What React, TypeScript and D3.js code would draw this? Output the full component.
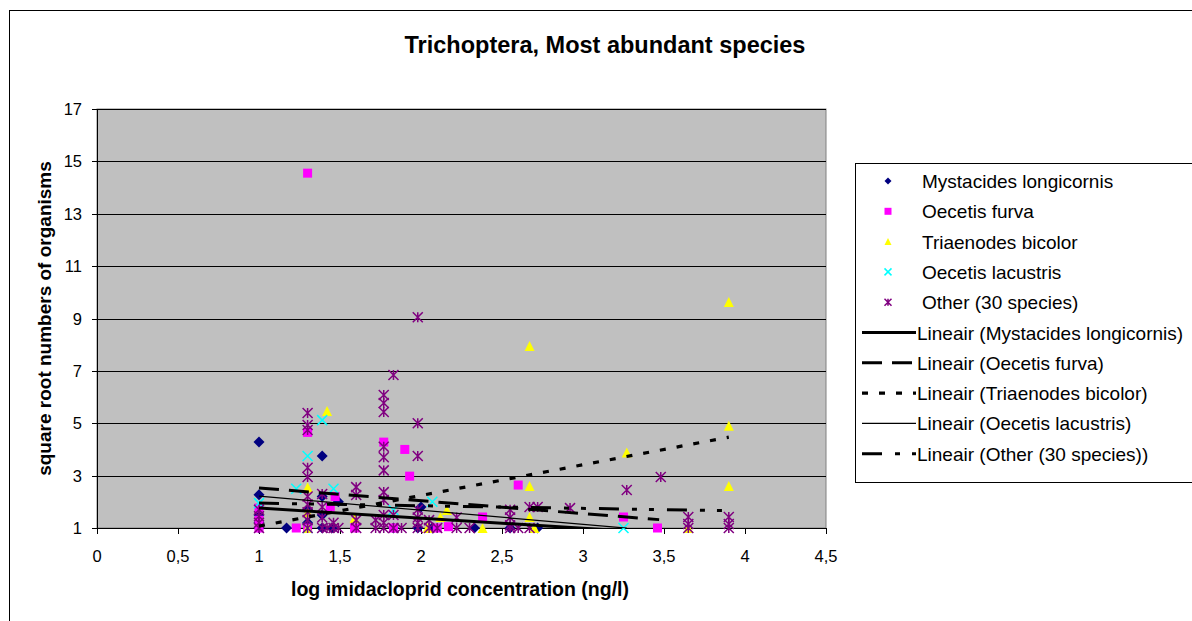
import React from "react";
import * as d3 from "d3";

// ---------- data ----------
const title = "Trichoptera, Most abundant species";
const xTitle = "log imidacloprid concentration (ng/l)";
const yTitle = "square root numbers of organisms";

const xTicks = [0, 0.5, 1, 1.5, 2, 2.5, 3, 3.5, 4, 4.5];
const xTickLabels = ["0", "0,5", "1", "1,5", "2", "2,5", "3", "3,5", "4", "4,5"];
const yTicks = [1, 3, 5, 7, 9, 11, 13, 15, 17];

const seriesNames = [
  "Mystacides longicornis",
  "Oecetis furva",
  "Triaenodes bicolor",
  "Oecetis lacustris",
  "Other (30 species)",
];

const mystacides: [number, number][] = [
  [1.0, 4.28], [1.0, 2.27], [1.0, 1.5], [1.0, 1.2], [1.0, 1.0], [1.17, 1.0],
  [1.3, 1.7], [1.3, 1.2], [1.39, 3.75], [1.39, 2.2], [1.39, 1.5], [1.39, 1.0],
  [1.45, 1.0], [1.49, 2.0], [1.83, 1.0], [1.98, 1.0], [2.0, 1.8], [2.07, 1.0],
  [2.33, 1.0], [2.55, 1.0], [2.72, 1.0],
];
const oecetisFurva: [number, number][] = [
  [1.3, 14.55], [1.3, 4.65], [1.77, 4.28], [1.9, 4.0], [1.93, 2.98], [2.6, 2.64],
  [1.0, 1.76], [1.0, 1.3], [1.0, 1.0], [1.23, 1.0], [1.3, 1.0], [1.44, 1.8],
  [1.47, 2.2], [1.59, 1.0], [1.83, 1.0], [2.38, 1.42], [3.25, 1.42], [3.46, 1.0],
  [2.1, 1.0], [2.17, 1.05],
];
const triaenodes: [number, number][] = [
  [3.9, 9.63], [2.67, 7.95], [1.42, 5.47], [3.27, 3.88], [3.9, 4.9], [3.9, 2.6],
  [2.67, 2.6], [1.3, 2.56], [1.59, 1.38], [2.16, 1.69], [2.12, 1.42], [2.67, 1.42],
  [2.04, 1.0], [2.38, 1.0], [2.7, 1.0], [3.65, 1.0], [1.3, 1.0], [1.3, 1.6],
];
const oecetisLacustris: [number, number][] = [
  [1.39, 5.12], [1.3, 3.75], [1.23, 2.5], [1.46, 2.5], [1.0, 1.95], [1.83, 1.69],
  [2.07, 2.0], [3.25, 1.0], [1.3, 1.0],
];
const other: [number, number][] = [
  [1.0, 1.0], [1.0, 1.2], [1.0, 1.45], [1.0, 1.7],
  [1.3, 5.39], [1.3, 4.93], [1.3, 4.74], [1.3, 3.3], [1.3, 2.95], [1.3, 2.2],
  [1.3, 1.9], [1.3, 1.6], [1.3, 1.3], [1.3, 1.0],
  [1.39, 2.3], [1.39, 1.8], [1.39, 1.4], [1.39, 1.0], [1.42, 1.0],
  [1.46, 1.0], [1.46, 1.2], [1.49, 1.0],
  [1.6, 2.56], [1.6, 2.26], [1.6, 1.3], [1.6, 1.0],
  [1.72, 1.3], [1.72, 1.0],
  [1.77, 6.08], [1.77, 5.77], [1.77, 5.43], [1.77, 4.1], [1.77, 3.7], [1.77, 3.2],
  [1.77, 2.37], [1.77, 2.07], [1.77, 1.5], [1.77, 1.2], [1.77, 1.0],
  [1.83, 6.84], [1.83, 1.5], [1.83, 1.0], [1.88, 1.0],
  [1.98, 9.05], [1.98, 5.0], [1.98, 3.75], [1.98, 1.7], [1.98, 1.4], [1.98, 1.2], [1.98, 1.0],
  [2.05, 1.3], [2.05, 1.0], [2.1, 1.0], [2.22, 1.4], [2.22, 1.0], [2.3, 1.0],
  [2.55, 1.7], [2.55, 1.4], [2.55, 1.1], [2.55, 1.0], [2.6, 1.0],
  [2.67, 1.8], [2.67, 1.0], [2.72, 1.8], [2.92, 1.76],
  [3.27, 2.45], [3.48, 2.95],
  [3.65, 1.42], [3.65, 1.15], [3.65, 1.0],
  [3.9, 1.42], [3.9, 1.15], [3.9, 1.0],
];

// linear trendlines: value at x = 1, slope, x-range
const trendAtOne = [1.76, 2.53, 1.07, 2.22, 1.95];
const trendSlope = [-0.385, -0.49, 1.172, -0.54, -0.1];
const trendFrom = [1.0, 1.0, 1.0, 1.0, 1.0];
const trendTo = [3.5, 3.47, 3.9, 3.27, 3.88];

// ---------- styling ----------
const W = 1192;
const H = 621;
const plot = { left: 97, right: 826, top: 109, bottom: 528 };
const FONT = "'Liberation Sans', Arial, sans-serif";

const markerColors = ["#000080", "#FF00FF", "#FFFF00", "#00FFFF", "#800080"];
const markerKinds = ["diamond", "square", "triangle", "x", "star"];
const lineWidths = [3, 3, 3.2, 1.2, 3];
const lineDash = ["", "20,10", "6,11", "", "20,13,5,12,5,13"];

function markerPath(kind: string, s: number): string {
  const h = s / 2;
  switch (kind) {
    case "diamond":
      return `M0,${-h}L${h},0L0,${h}L${-h},0Z`;
    case "square":
      return `M${-h},${-h}H${h}V${h}H${-h}Z`;
    case "triangle":
      return `M0,${-h}L${h},${h}L${-h},${h}Z`;
    case "x":
      return `M${-h},${-h}L${h},${h}M${h},${-h}L${-h},${h}`;
    default:
      return `M${-h},${-h}L${h},${h}M${h},${-h}L${-h},${h}M0,${-h}V${h}`;
  }
}

function Marker({ kind, color, x, y, size }: { kind: string; color: string; x: number; y: number; size: number }) {
  const stroked = kind === "x" || kind === "star";
  return (
    <path
      d={markerPath(kind, size)}
      transform={`translate(${x},${y})`}
      fill={stroked ? "none" : color}
      stroke={stroked ? color : "none"}
      strokeWidth={stroked ? 1.5 : 0}
    />
  );
}

export default function App() {
  const x = d3.scaleLinear().domain([0, 4.5]).range([plot.left, plot.right]);
  const y = d3.scaleLinear().domain([1, 17]).range([plot.bottom, plot.top]);
  const allSeries = [mystacides, oecetisFurva, triaenodes, oecetisLacustris, other];
  const line = d3
    .line<[number, number]>()
    .x((d) => x(d[0]))
    .y((d) => y(d[1]));

  const legendX = 855;
  const legendTop = 163;
  const legendRowY = (i: number) => 181 + i * 30.3;

  return (
    <svg
      width={W}
      height={H}
      style={{ position: "absolute", left: 0, top: 0, background: "#fff" }}
      fontFamily={FONT}
    >
      <defs>
        <clipPath id="plotClip">
          <rect x={plot.left} y={plot.top} width={plot.right - plot.left} height={plot.bottom - plot.top} />
        </clipPath>
      </defs>
      {/* outer chart border */}
      <rect x={9.5} y={10.5} width={W} height={H} fill="#fff" stroke="#000" strokeWidth={1} />

      {/* title */}
      <text x={605} y={53} textAnchor="middle" fontSize={23.5} fontWeight="bold" fill="#000">
        {title}
      </text>

      {/* plot area */}
      <rect
        x={plot.left}
        y={plot.top}
        width={plot.right - plot.left}
        height={plot.bottom - plot.top}
        fill="#C0C0C0"
        stroke="#808080"
        strokeWidth={1}
      />
      {yTicks.map((t) => (
        <line
          key={"g" + t}
          x1={plot.left}
          x2={plot.right}
          y1={Math.round(y(t)) + 0.5}
          y2={Math.round(y(t)) + 0.5}
          stroke="#000"
          strokeWidth={1}
        />
      ))}

      {/* y axis */}
      <line x1={plot.left + 0.5} x2={plot.left + 0.5} y1={plot.top} y2={plot.bottom} stroke="#000" />
      {yTicks.map((t) => (
        <g key={"yt" + t}>
          <line x1={plot.left - 5} x2={plot.left} y1={Math.round(y(t)) + 0.5} y2={Math.round(y(t)) + 0.5} stroke="#000" />
          <text x={82} y={y(t) + 6} textAnchor="end" fontSize={16.5} fill="#000">
            {t}
          </text>
        </g>
      ))}

      {/* x axis */}
      <line x1={plot.left} x2={plot.right} y1={plot.bottom + 0.5} y2={plot.bottom + 0.5} stroke="#000" />
      {xTicks.map((t, i) => (
        <g key={"xt" + t}>
          <line x1={Math.round(x(t)) + 0.5} x2={Math.round(x(t)) + 0.5} y1={plot.bottom} y2={plot.bottom + 6} stroke="#000" />
          <text x={x(t)} y={562} textAnchor="middle" fontSize={16.5} fill="#000">
            {xTickLabels[i]}
          </text>
        </g>
      ))}

      {/* axis titles */}
      <text x={460} y={596} textAnchor="middle" fontSize={19.5} fontWeight="bold" fill="#000">
        {xTitle}
      </text>
      <text
        transform={`translate(51,${(plot.top + plot.bottom) / 2}) rotate(-90)`}
        textAnchor="middle"
        fontSize={19}
        fontWeight="bold"
        fill="#000"
      >
        {yTitle}
      </text>

      {/* markers */}
      {allSeries.map((pts, si) => (
        <g key={"s" + si}>
          {pts.map((p, pi) => (
            <Marker
              key={pi}
              kind={markerKinds[si]}
              color={markerColors[si]}
              x={x(p[0])}
              y={y(p[1])}
              size={si === 1 ? 9 : si === 0 ? 11 : 10}
            />
          ))}
        </g>
      ))}

      {/* trendlines */}
      <g clipPath="url(#plotClip)">
        {trendAtOne.map((a, i) => {
          const f = (v: number) => a + trendSlope[i] * (v - 1);
          const pts: [number, number][] = [
            [trendFrom[i], f(trendFrom[i])],
            [trendTo[i], f(trendTo[i])],
          ];
          return (
            <path
              key={"t" + i}
              d={line(pts) || ""}
              fill="none"
              stroke="#000"
              strokeWidth={lineWidths[i]}
              strokeDasharray={lineDash[i]}
            />
          );
        })}
      </g>

      {/* legend */}
      <rect x={legendX + 0.5} y={legendTop + 0.5} width={W} height={482 - legendTop} fill="#fff" stroke="#000" />
      {seriesNames.map((n, i) => (
        <g key={"lm" + i}>
          <Marker kind={markerKinds[i]} color={markerColors[i]} x={888} y={legendRowY(i)} size={7} />
          <text x={922} y={legendRowY(i) + 7} fontSize={19} fill="#000">
            {n}
          </text>
        </g>
      ))}
      {seriesNames.map((n, i) => (
        <g key={"ll" + i}>
          <line
            x1={862}
            x2={916}
            y1={legendRowY(i + 5)}
            y2={legendRowY(i + 5)}
            stroke="#000"
            strokeWidth={lineWidths[i]}
            strokeDasharray={lineDash[i]}
          />
          <text x={917} y={legendRowY(i + 5) + 7} fontSize={19} fill="#000">
            {"Lineair (" + n + ")"}
          </text>
        </g>
      ))}
    </svg>
  );
}
